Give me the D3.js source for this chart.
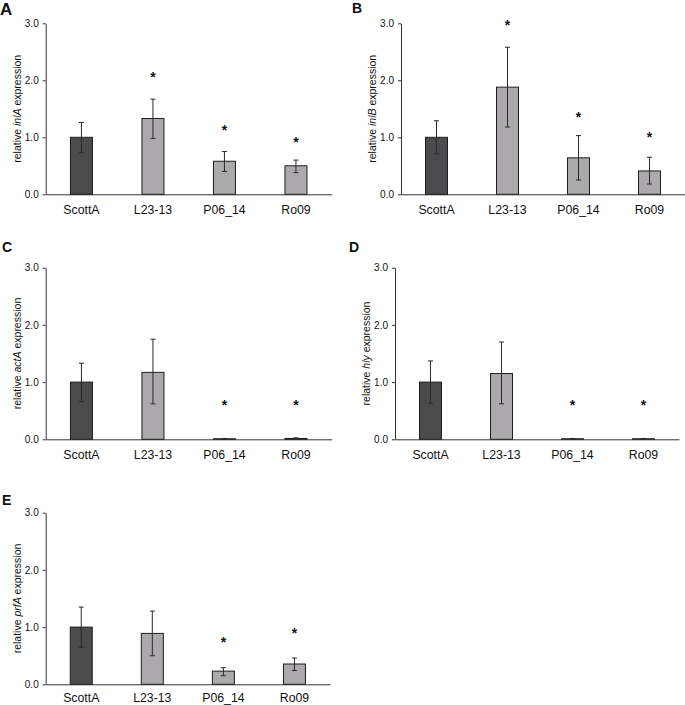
<!DOCTYPE html>
<html>
<head>
<meta charset="utf-8">
<script src="https://cdn.jsdelivr.net/npm/d3@7"></script>
<style>
  html, body { margin: 0; padding: 0; background: #fff; }
  svg { display: block; font-family: "Liberation Sans", Arial, sans-serif; }
</style>
</head>
<body>
<svg id="chart" width="685" height="705"></svg>
<script>
// ---------- data ----------
const categories = ["ScottA", "L23-13", "P06_14", "Ro09"];
const yTicks = [0, 1, 2, 3];
const panelLetters = ["A", "B", "C", "D", "E"];
const genes = ["inlA", "inlB", "actA", "hly", "prfA"];

const inlAMean  = [1.00, 1.33, 0.58, 0.50];
const inlALow   = [0.73, 0.98, 0.40, 0.38];
const inlAHigh  = [1.26, 1.67, 0.75, 0.60];
const inlAStar  = [null, 2.09, 1.16, 0.96];

const inlBMean  = [1.00, 1.88, 0.64, 0.41];
const inlBLow   = [0.71, 1.18, 0.25, 0.18];
const inlBHigh  = [1.29, 2.58, 1.03, 0.65];
const inlBStar  = [null, 3.00, 1.40, 1.04];

const actAMean  = [1.00, 1.17, 0.01, 0.015];
const actALow   = [0.66, 0.62, 0.005, 0.01];
const actAHigh  = [1.33, 1.75, 0.015, 0.025];
const actAStar  = [null, null, 0.63, 0.63];

const hlyMean   = [1.00, 1.15, 0.01, 0.01];
const hlyLow    = [0.63, 0.62, 0.005, 0.005];
const hlyHigh   = [1.37, 1.70, 0.015, 0.015];
const hlyStar   = [null, null, 0.63, 0.63];

const prfAMean  = [1.00, 0.89, 0.23, 0.355];
const prfALow   = [0.65, 0.50, 0.15, 0.24];
const prfAHigh  = [1.35, 1.28, 0.29, 0.46];
const prfAStar  = [null, null, 0.77, 0.93];

const seriesMean = [inlAMean, inlBMean, actAMean, hlyMean, prfAMean];
const seriesLow  = [inlALow, inlBLow, actALow, hlyLow, prfALow];
const seriesHigh = [inlAHigh, inlBHigh, actAHigh, hlyHigh, prfAHigh];
const seriesStar = [inlAStar, inlBStar, actAStar, hlyStar, prfAStar];

// ---------- layout ----------
const layout = [
  { x0: 45.7, x1: 331.7, top: 23.3,  bottom: 194.3, lx: 0,   ly: 15,  ls: 17, pad: 11 },
  { x0: 401,  x1: 685,   top: 23.3,  bottom: 194.3, lx: 352, ly: 13,  ls: 14, pad: 11 },
  { x0: 45.7, x1: 331.7, top: 267.7, bottom: 439.3, lx: 2,   ly: 252, ls: 14, pad: 11 },
  { x0: 395,  x1: 679,   top: 267.7, bottom: 439.3, lx: 349, ly: 252, ls: 14, pad: 11 },
  { x0: 45.7, x1: 330,   top: 512.7, bottom: 684.3, lx: 2,   ly: 505, ls: 14, pad: 8.5 }
];

const barColors = ["#4b4a4c", "#aba9ab", "#aba9ab", "#aba9ab"];
const svg = d3.select("#chart");

genes.forEach((gene, gi) => {
  const L = layout[gi];
  const g = svg.append("g");
  const x = d3.scaleBand().domain(categories).range([L.x0, L.x1]).paddingInner(0).paddingOuter(0);
  const y = d3.scaleLinear().domain([0, 3]).range([L.bottom, L.top]);
  const bw = 22;
  const cx = c => x(c) + x.bandwidth() / 2;

  // panel letter
  g.append("text").attr("x", L.lx).attr("y", L.ly)
    .attr("font-size", L.ls).attr("font-weight", "bold").attr("fill", "#111")
    .text(panelLetters[gi]);

  // y axis
  const yAxis = d3.axisLeft(y).tickValues(yTicks).tickFormat(d3.format(".1f"))
    .tickSizeInner(3).tickSizeOuter(0).tickPadding(4);
  const ya = g.append("g").attr("transform", `translate(${L.x0},0)`).call(yAxis);
  ya.select(".domain").attr("stroke", "#333");
  ya.selectAll(".tick line").attr("stroke", "#333");
  ya.selectAll(".tick text").attr("font-size", 10).attr("fill", "#111")
    .attr("font-family", "Liberation Sans, Arial, sans-serif");

  // x axis
  const xAxis = d3.axisBottom(x).tickSize(0).tickPadding(L.pad);
  const xa = g.append("g").attr("transform", `translate(0,${L.bottom})`).call(xAxis);
  xa.select(".domain").attr("stroke", "#333");
  xa.selectAll(".tick text").attr("font-size", 12.3).attr("fill", "#111")
    .attr("font-family", "Liberation Sans, Arial, sans-serif");

  // y title
  const yt = g.append("text")
    .attr("transform", `translate(${L.x0 - 25},${(L.top + L.bottom) / 2}) rotate(-90)`)
    .attr("text-anchor", "middle").attr("font-size", 10.5).attr("fill", "#111");
  yt.append("tspan").text("relative ");
  yt.append("tspan").attr("font-style", "italic").text(gene);
  yt.append("tspan").text(" expression");

  const rows = categories.map((c, i) => ({
    c, i, m: seriesMean[gi][i], lo: seriesLow[gi][i], hi: seriesHigh[gi][i], s: seriesStar[gi][i]
  }));

  // bars
  g.selectAll("rect.bar").data(rows).join("rect").attr("class", "bar")
    .attr("x", d => cx(d.c) - bw / 2)
    .attr("width", bw)
    .attr("y", d => y(d.m))
    .attr("height", d => Math.max(0.5, y(0) - y(d.m)))
    .attr("fill", d => barColors[d.i])
    .attr("stroke", "#1e1e1e").attr("stroke-width", 1);

  // error bars
  const eb = g.selectAll("g.err").data(rows).join("g").attr("class", "err")
    .attr("stroke", "#2a2a2a").attr("stroke-width", 1);
  eb.append("line").attr("x1", d => cx(d.c)).attr("x2", d => cx(d.c))
    .attr("y1", d => y(d.lo)).attr("y2", d => y(d.hi));
  eb.append("line").attr("x1", d => cx(d.c) - 2.5).attr("x2", d => cx(d.c) + 2.5)
    .attr("y1", d => y(d.hi)).attr("y2", d => y(d.hi));
  eb.append("line").attr("x1", d => cx(d.c) - 2.5).attr("x2", d => cx(d.c) + 2.5)
    .attr("y1", d => y(d.lo)).attr("y2", d => y(d.lo));

  // significance stars
  g.selectAll("text.star").data(rows.filter(d => d.s !== null)).join("text").attr("class", "star")
    .attr("x", d => cx(d.c)).attr("y", d => y(d.s) + 7)
    .attr("text-anchor", "middle").attr("font-size", 14).attr("font-weight", "bold")
    .attr("fill", "#111").text("*");
});
</script>
</body>
</html>
